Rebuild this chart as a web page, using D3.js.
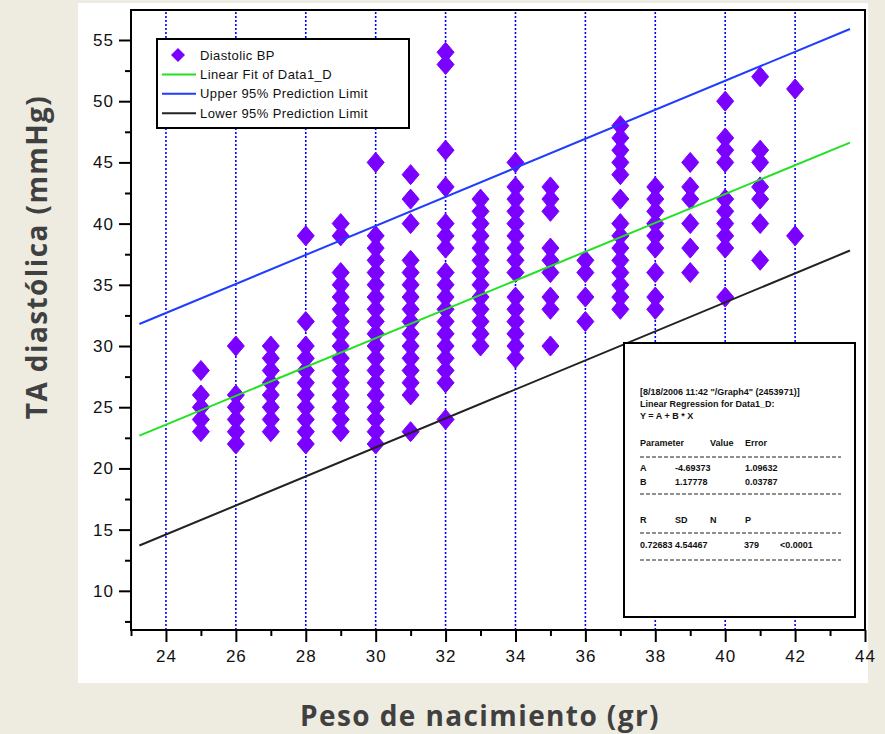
<!DOCTYPE html>
<html>
<head>
<meta charset="utf-8">
<script src="https://cdn.jsdelivr.net/npm/d3@7"></script>
<style>
  body { margin: 0; background: #eeece1; }
  svg { display: block; }
</style>
</head>
<body>
<div id="chart"></div>
<script>
var semanas = [25, 26, 27, 28, 29, 30, 31, 32, 33, 34, 35, 36, 37, 38, 39, 40, 41, 42];
var tad = [
  [28, 26, 25, 24, 23],
  [30, 26, 25, 24, 23, 22],
  [30, 29, 28, 27, 26, 25, 24, 23],
  [39, 32, 30, 29, 28, 27, 26, 25, 24, 23, 22],
  [40, 39, 36, 35, 34, 33, 32, 31, 30, 29, 28, 27, 26, 25, 24, 23],
  [45, 39, 38, 37, 36, 35, 34, 33, 32, 31, 30, 29, 28, 27, 26, 25, 24, 23, 22],
  [44, 42, 40, 37, 36, 35, 34, 33, 32, 31, 30, 29, 28, 27, 26, 23],
  [54, 53, 46, 43, 40, 39, 38, 36, 35, 34, 33, 32, 31, 30, 29, 28, 27, 24],
  [42, 41, 40, 39, 38, 37, 36, 35, 34, 33, 32, 31, 30],
  [45, 43, 42, 41, 40, 39, 38, 37, 36, 34, 33, 32, 31, 30, 29],
  [43, 42, 41, 38, 37, 36, 34, 33, 30],
  [37, 36, 34, 32],
  [48, 47, 46, 45, 44, 42, 40, 39, 38, 37, 36, 35, 34, 33],
  [43, 42, 41, 40, 39, 38, 36, 34, 33],
  [45, 43, 42, 40, 38, 36],
  [50, 47, 46, 45, 42, 41, 40, 39, 38, 34],
  [52, 46, 45, 43, 42, 40, 37],
  [51, 39]
];

// extremos de las rectas (x inicial y final)
var rectaX = [23.24, 43.57];
var ajuste = [22.68, 46.62];
var limiteSup = [31.8, 55.9];
var limiteInf = [13.7, 37.8];

var xTicks = [24, 26, 28, 30, 32, 34, 36, 38, 40, 42, 44];
var xMinor = [23, 25, 27, 29, 31, 33, 35, 37, 39, 41, 43];
var yTicks = [10, 15, 20, 25, 30, 35, 40, 45, 50, 55];
var yMinor = [7.5, 12.5, 17.5, 22.5, 27.5, 32.5, 37.5, 42.5, 47.5, 52.5];
var gridX = [24, 26, 28, 30, 32, 34, 36, 38, 40, 42];

var legendLabels = ['Diastolic BP', 'Linear Fit of Data1_D', 'Upper 95% Prediction Limit', 'Lower 95% Prediction Limit'];
var legendColors = ['#7a00ff', '#22e022', '#1f3dff', '#222222'];

var statsHeader = ['[8/18/2006 11:42 "/Graph4" (2453971)]', 'Linear Regression for Data1_D:', 'Y = A + B * X'];
var statsParams = [['Parameter', 'Value', 'Error'], ['A', '-4.69373', '1.09632'], ['B', '1.17778', '0.03787']];
var statsFit = [['R', 'SD', 'N', 'P'], ['0.72683', '4.54467', '379', '<0.0001']];

var svg = d3.select("#chart")
  .append("svg")
  .attr("width", 885)
  .attr("height", 734);

svg.append("rect")
  .attr("x", 0).attr("y", 0)
  .attr("width", 885).attr("height", 734)
  .attr("fill", "#eeece1");

svg.append("rect")
  .attr("x", 78).attr("y", 3)
  .attr("width", 790).attr("height", 680)
  .attr("fill", "white");

var x = d3.scaleLinear().domain([23, 44]).range([131, 865]);
var y = d3.scaleLinear().domain([6.8, 57.45]).range([630, 10]);

// rejilla vertical punteada
svg.append("g")
  .selectAll("line")
  .data(gridX)
  .enter()
  .append("line")
  .attr("x1", d => x(d)).attr("x2", d => x(d))
  .attr("y1", y(6.8)).attr("y2", y(57.45))
  .attr("stroke", "#0000ff")
  .attr("stroke-width", 1.6)
  .attr("stroke-dasharray", "2,2");

// puntos
var puntos = [];
semanas.forEach(function (s, i) {
  tad[i].forEach(function (v) { puntos.push([s, v]); });
});

svg.append("g")
  .selectAll("path")
  .data(puntos)
  .enter()
  .append("path")
  .attr("transform", d => "translate(" + x(d[0]) + "," + y(d[1]) + ")")
  .attr("d", "M0,-10L8.5,0L0,10L-8.5,0Z")
  .attr("fill", "#7a00ff")
  .attr("stroke", "#7a00ff")
  .attr("stroke-width", 1)
  .attr("stroke-linejoin", "round");

function recta(vals, color) {
  svg.append("line")
    .attr("x1", x(rectaX[0])).attr("y1", y(vals[0]))
    .attr("x2", x(rectaX[1])).attr("y2", y(vals[1]))
    .attr("stroke", color)
    .attr("stroke-width", 2);
}
recta(ajuste, legendColors[1]);
recta(limiteSup, legendColors[2]);
recta(limiteInf, legendColors[3]);

// ejes
var tickFont = "Liberation Sans, Arial, sans-serif";

var ax = svg.append("g")
  .attr("transform", "translate(0," + y(6.8) + ")")
  .call(d3.axisBottom(x).tickValues(xTicks).tickSize(12).tickPadding(8).tickFormat(d3.format("d")));
ax.select(".domain").remove();
svg.append("g")
  .attr("transform", "translate(0," + y(6.8) + ")")
  .call(d3.axisBottom(x).tickValues(xMinor).tickSize(6).tickFormat(""))
  .select(".domain").remove();

var ay = svg.append("g")
  .attr("transform", "translate(" + x(23) + ",0)")
  .call(d3.axisLeft(y).tickValues(yTicks).tickSize(12).tickPadding(5).tickFormat(d3.format("d")));
ay.select(".domain").remove();
svg.append("g")
  .attr("transform", "translate(" + x(23) + ",0)")
  .call(d3.axisLeft(y).tickValues(yMinor).tickSize(6).tickFormat(""))
  .select(".domain").remove();

svg.selectAll(".tick line").attr("stroke", "black").attr("stroke-width", 2);
svg.selectAll(".tick text")
  .attr("font-family", tickFont)
  .attr("font-size", "17px")
  .attr("letter-spacing", "1px")
  .attr("fill", "#111");

svg.append("rect")
  .attr("x", x(23)).attr("y", y(57.45))
  .attr("width", x(44) - x(23)).attr("height", y(6.8) - y(57.45))
  .attr("fill", "none")
  .attr("stroke", "black")
  .attr("stroke-width", 2);

// leyenda
var leg = svg.append("g");
leg.append("rect")
  .attr("x", 157).attr("y", 39)
  .attr("width", 252).attr("height", 89)
  .attr("fill", "white")
  .attr("stroke", "black")
  .attr("stroke-width", 2);

legendLabels.forEach(function (lab, i) {
  var ly = 55 + i * 19.4;
  if (i == 0) {
    leg.append("path")
      .attr("transform", "translate(178," + ly + ")")
      .attr("d", "M0,-7L7,0L0,7L-7,0Z")
      .attr("fill", legendColors[0]);
  } else {
    leg.append("line")
      .attr("x1", 162).attr("x2", 196)
      .attr("y1", ly).attr("y2", ly)
      .attr("stroke", legendColors[i])
      .attr("stroke-width", 2);
  }
  leg.append("text")
    .attr("x", 200).attr("y", ly)
    .attr("dy", "0.35em")
    .attr("font-family", tickFont)
    .attr("font-size", "13px")
    .attr("letter-spacing", "0.4px")
    .attr("fill", "#111")
    .text(lab);
});

// cuadro de resultados
var st = svg.append("g")
  .attr("font-family", tickFont)
  .attr("font-size", "9px")
  .attr("font-weight", "bold")
  .attr("fill", "#111");
st.append("rect")
  .attr("x", 624).attr("y", 343)
  .attr("width", 231).attr("height", 274)
  .attr("fill", "white")
  .attr("stroke", "black")
  .attr("stroke-width", 2);

statsHeader.forEach(function (t, i) {
  st.append("text").attr("x", 640).attr("y", 395 + i * 12).text(t);
});
var colsP = [640, 710, 745];
var rowsP = [446, 471, 485];
statsParams.forEach(function (row, r) {
  row.forEach(function (t, c) {
    var cx = (r > 0 && c == 1) ? 675 : colsP[c];
    st.append("text").attr("x", cx).attr("y", rowsP[r]).text(t);
  });
});
var colsF = [640, 675, 710, 745];
var colsF2 = [640, 675, 744, 780];
statsFit.forEach(function (row, r) {
  row.forEach(function (t, c) {
    st.append("text")
      .attr("x", r == 0 ? colsF[c] : colsF2[c])
      .attr("y", r == 0 ? 523 : 548)
      .text(t);
  });
});
[457, 494, 533, 560].forEach(function (ly) {
  st.append("line")
    .attr("x1", 640).attr("x2", 841)
    .attr("y1", ly).attr("y2", ly)
    .attr("stroke", "#222")
    .attr("stroke-width", 1.2)
    .attr("stroke-dasharray", "4,2");
});

// titulos
svg.append("text")
  .attr("x", 480).attr("y", 716)
  .attr("dy", "0.35em")
  .attr("text-anchor", "middle")
  .attr("font-family", "Open Sans, sans-serif")
  .attr("font-weight", "bold")
  .attr("font-size", "28px")
  .attr("letter-spacing", "1.4px")
  .attr("fill", "#404040")
  .text("Peso de nacimiento (gr)");

svg.append("text")
  .attr("transform", "translate(37,257) rotate(-90)")
  .attr("dy", "0.35em")
  .attr("text-anchor", "middle")
  .attr("font-family", "Open Sans, sans-serif")
  .attr("font-weight", "bold")
  .attr("font-size", "28px")
  .attr("letter-spacing", "1.4px")
  .attr("fill", "#404040")
  .text("TA diastólica (mmHg)");
</script>
</body>
</html>
